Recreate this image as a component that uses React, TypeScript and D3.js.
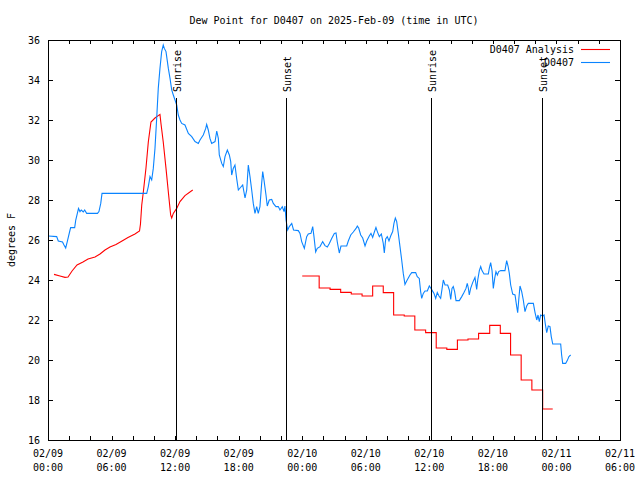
import React from "react";
import * as d3 from "d3";

const TITLE = "Dew Point for D0407 on 2025-Feb-09 (time in UTC)";
const Y_LABEL = "degrees F";
const X_TICK_DATES = ["02/09", "02/09", "02/09", "02/09", "02/10", "02/10", "02/10", "02/10", "02/11", "02/11"];
const X_TICK_TIMES = ["00:00", "06:00", "12:00", "18:00", "00:00", "06:00", "12:00", "18:00", "00:00", "06:00"];
const Y_TICKS = [16, 18, 20, 22, 24, 26, 28, 30, 32, 34, 36];
const SERIES_NAMES = ["D0407 Analysis", "D0407"];
const SERIES_COLORS = ["#ff0000", "#0a84ff"];

const EVENT_LABELS = ["Sunrise", "Sunset", "Sunrise", "Sunset"];
const EVENT_HOURS = [12.08, 22.5, 36.2, 46.66];

// hours since 02/09 00:00 UTC
const OBS_HOURS = [
  0.03, 0.82, 0.97, 1.37, 1.51, 1.67, 1.82, 2.08, 2.14, 2.52,
  2.62, 2.77, 2.88, 3.02, 3.14, 3.33, 3.46, 3.65, 4.67, 4.81,
  4.98, 5.10, 9.32, 9.47, 9.63, 9.79, 9.94, 10.10, 10.26, 10.41,
  10.57, 10.73, 10.88, 10.98, 11.14, 11.36, 11.52, 11.68, 11.83, 11.99,
  12.15, 12.30, 12.46, 12.62, 12.93, 13.25, 13.57, 13.88, 14.19, 14.35,
  14.66, 14.89, 14.98, 15.13, 15.29, 15.45, 15.77, 15.93, 16.08, 16.17,
  16.40, 16.55, 16.71, 16.93, 17.12, 17.25, 17.34, 17.49, 17.65, 17.81,
  17.97, 18.13, 18.38, 18.60, 18.76, 18.91, 19.07, 19.23, 19.38, 19.54,
  19.70, 19.85, 20.01, 20.17, 20.27, 20.39, 20.58, 20.70, 20.89, 21.12,
  21.27, 21.52, 21.74, 21.90, 22.12, 22.28, 22.37, 22.47, 22.63, 22.78,
  23.01, 23.18, 23.63, 23.79, 23.95, 24.20, 24.42, 24.57, 24.83, 24.99,
  25.11, 25.27, 25.42, 25.68, 25.93, 26.15, 26.37, 26.56, 26.78, 27.03,
  27.19, 27.31, 27.50, 27.66, 28.20, 28.35, 28.58, 28.82, 29.08, 29.20,
  29.33, 29.52, 29.71, 29.93, 30.09, 30.33, 30.49, 30.65, 30.78, 30.96,
  31.09, 31.28, 31.47, 31.65, 31.75, 31.88, 32.03, 32.19, 32.35, 32.54,
  32.66, 32.79, 32.92, 33.07, 33.23, 33.39, 33.54, 33.70, 33.86, 34.17,
  34.34, 34.71, 34.86, 35.05, 35.18, 35.28, 35.43, 35.59, 35.81, 36.00,
  36.13, 36.28, 36.44, 36.60, 36.75, 36.91, 37.07, 37.22, 37.32, 37.48,
  37.73, 37.89, 38.02, 38.14, 38.26, 38.39, 38.52, 38.83, 39.06, 39.27,
  39.46, 39.58, 39.68, 39.77, 39.90, 40.09, 40.31, 40.47, 40.57, 40.72,
  40.85, 40.97, 41.16, 41.57, 41.66, 41.79, 41.92, 42.04, 42.17, 42.29,
  42.42, 42.55, 42.74, 43.14, 43.30, 43.43, 43.55, 43.68, 43.87, 44.09,
  44.25, 44.34, 44.44, 44.56, 44.72, 44.87, 45.03, 45.19, 45.34, 45.82,
  45.98, 46.14, 46.26, 46.38, 46.51, 46.70, 46.83, 46.95, 47.08, 47.23,
  47.39, 47.51, 47.65, 48.40, 48.49, 48.59, 48.87, 49.02, 49.18, 49.34,
];
const OBS_VALUES = [
  26.2, 26.17, 25.95, 25.9, 25.75, 25.6, 25.92, 26.5, 26.62, 26.62,
  27.0, 27.33, 27.58, 27.42, 27.5, 27.4, 27.5, 27.33, 27.33, 27.42,
  27.83, 28.33, 28.33, 28.67, 29.17, 29.0, 29.58, 30.58, 32.08, 33.58,
  34.58, 35.42, 35.75, 35.58, 35.42, 34.58, 34.08, 33.5, 33.25, 33.0,
  32.75, 32.25, 32.0, 31.83, 31.75, 31.33, 31.17, 30.92, 30.83, 31.0,
  31.25, 31.58, 31.78, 31.5, 31.08, 30.83, 30.92, 31.45, 31.08, 30.25,
  29.83, 29.67, 30.17, 30.5, 30.25, 29.92, 29.25, 29.58, 29.75, 29.08,
  28.5, 28.6, 28.75, 28.1, 28.5, 29.75, 29.17, 28.5, 27.83, 27.33,
  27.67, 27.33, 27.67, 28.83, 29.42, 29.0, 28.25, 27.7, 28.0, 28.03,
  27.83, 27.67, 27.67, 27.5, 27.67, 27.42, 27.7, 27.0, 26.5, 26.67,
  26.83, 26.5, 26.47, 26.33, 25.92, 25.58, 26.17, 26.3, 26.33, 26.67,
  26.17, 25.4, 25.58, 25.67, 25.92, 25.72, 25.65, 25.83, 26.08, 26.33,
  26.35, 25.9, 25.35, 25.7, 25.7, 25.95, 26.25, 26.4, 26.58, 26.7,
  26.6, 26.25, 26.1, 25.7, 25.95, 26.2, 26.33, 26.13, 26.35, 26.63,
  26.42, 26.17, 26.3, 25.83, 25.35, 26.05, 26.17, 25.95, 26.2, 26.42,
  26.83, 27.1, 26.92, 26.33, 25.67, 25.0, 24.33, 23.78, 23.95, 24.25,
  24.37, 24.37, 24.17, 24.08, 23.42, 23.08, 23.33, 23.45, 23.45, 23.7,
  23.6, 23.47, 23.33, 23.08, 23.37, 23.2, 23.08, 23.63, 24.0, 23.75,
  23.75, 23.5, 23.03, 23.58, 23.67, 23.42, 22.97, 22.97, 23.17, 23.37,
  23.58, 23.83, 23.6, 23.25, 23.58, 23.87, 24.13, 23.53, 24.0, 24.47,
  24.67, 24.47, 24.3, 24.3, 24.58, 24.87, 24.47, 23.58, 24.08, 24.42,
  24.25, 24.42, 24.47, 24.47, 24.97, 24.7, 24.33, 23.75, 23.3, 23.25,
  22.67, 22.37, 23.0, 23.7, 23.42, 23.0, 22.42, 22.7, 22.83, 22.83,
  22.37, 22.0, 22.25, 21.92, 22.25, 22.2, 22.25, 21.8, 21.37, 21.7,
  21.67, 21.17, 20.8, 20.8, 20.25, 19.83, 19.83, 19.97, 20.17, 20.25,
];

// analysis, first run (smooth)
const ANA1_HOURS = [
  0.57, 1.13, 1.60, 1.89, 2.27, 2.74, 3.30, 3.78, 4.44, 4.91,
  5.38, 5.85, 6.42, 6.99, 7.55, 8.21, 8.64, 8.73, 8.85, 9.00,
  9.25, 9.47, 9.72, 10.10, 10.57, 10.67, 10.88, 11.14, 11.36, 11.58,
  11.68, 11.83, 12.15, 12.46, 12.93, 13.66,
];
const ANA1_VALUES = [
  24.28, 24.2, 24.13, 24.15, 24.45, 24.75, 24.9, 25.05, 25.15, 25.3,
  25.5, 25.65, 25.78, 25.95, 26.12, 26.3, 26.45, 26.8, 27.75, 28.4,
  29.6, 30.9, 31.9, 32.1, 32.28, 31.8, 30.9, 29.58, 28.4, 27.25,
  27.1, 27.33, 27.58, 27.92, 28.22, 28.5,
];

// analysis, second run (hourly steps)
const ANA2_HOURS = [
  24.0, 25.6, 26.63, 27.63, 28.63, 29.65, 30.65, 31.65, 32.63, 33.63,
  34.63, 35.65, 36.65, 37.65, 38.65, 39.65, 40.65, 41.7, 42.7, 43.67,
  44.67, 45.68, 46.7, 47.65,
];
const ANA2_VALUES = [
  24.2, 23.6, 23.53, 23.38, 23.3, 23.2, 23.7, 23.37, 22.25, 22.2,
  21.5, 21.37, 20.6, 20.53, 21.0, 21.05, 21.33, 21.73, 21.33, 20.25,
  19.0, 18.5, 17.55, 17.55,
];

const W = 640;
const H = 480;
const L = 48;
const R = 620;
const T = 40;
const B = 440;
const FONT = "'DejaVu Sans Mono', 'Liberation Mono', monospace";

export default function App() {
  const x = d3.scaleLinear().domain([0, 54]).range([L, R]);
  const y = d3.scaleLinear().domain([16, 36]).range([B, T]);

  const minorTicks = d3.range(0, 54.001, 2);
  const majorTicks = d3.range(0, 54.001, 6);

  const line = d3
    .line<[number, number]>()
    .x((d) => x(d[0]))
    .y((d) => y(d[1]));
  const stepLine = d3
    .line<[number, number]>()
    .x((d) => x(d[0]))
    .y((d) => y(d[1]))
    .curve(d3.curveStepAfter);

  const obs = OBS_HOURS.map((h, i) => [h, OBS_VALUES[i]] as [number, number]);
  const ana1 = ANA1_HOURS.map((h, i) => [h, ANA1_VALUES[i]] as [number, number]);
  const ana2 = ANA2_HOURS.map((h, i) => [h, ANA2_VALUES[i]] as [number, number]);

  return (
    <svg
      width={W}
      height={H}
      style={{ position: "absolute", left: 0, top: 0, background: "#fff" }}
      fontFamily={FONT}
      fontSize={10}
    >
      <rect x={0} y={0} width={W} height={H} fill="#fff" />
      <text x={(L + R) / 2} y={24} textAnchor="middle" fill="#000">
        {TITLE}
      </text>
      <text transform={`translate(15,240) rotate(-90)`} textAnchor="middle" fill="#000">
        {Y_LABEL}
      </text>

      {/* y ticks */}
      {Y_TICKS.map((v) => (
        <g key={"y" + v} shapeRendering="crispEdges">
          <line x1={L} x2={L + 5} y1={Math.round(y(v)) + 0.5} y2={Math.round(y(v)) + 0.5} stroke="#000" />
          <line x1={R} x2={R - 5} y1={Math.round(y(v)) + 0.5} y2={Math.round(y(v)) + 0.5} stroke="#000" />
          <text x={40} y={y(v) + 4} textAnchor="end" fill="#000" shapeRendering="auto">
            {v}
          </text>
        </g>
      ))}

      {/* x ticks */}
      {minorTicks.map((h) => (
        <g key={"x" + h} shapeRendering="crispEdges">
          <line x1={Math.round(x(h)) + 0.5} x2={Math.round(x(h)) + 0.5} y1={B} y2={B - 4} stroke="#000" />
          <line x1={Math.round(x(h)) + 0.5} x2={Math.round(x(h)) + 0.5} y1={T} y2={T + 4} stroke="#000" />
        </g>
      ))}
      {majorTicks.map((h, i) => (
        <g key={"xl" + h}>
          <text x={x(h)} y={457} textAnchor="middle" fill="#000">
            {X_TICK_DATES[i]}
          </text>
          <text x={x(h)} y={471} textAnchor="middle" fill="#000">
            {X_TICK_TIMES[i]}
          </text>
        </g>
      ))}

      {/* data */}
      <path d={line(ana1) || ""} fill="none" stroke={SERIES_COLORS[0]} strokeWidth={1.1} />
      <path d={stepLine(ana2) || ""} fill="none" stroke={SERIES_COLORS[0]} strokeWidth={1.1} />
      <path d={line(obs) || ""} fill="none" stroke={SERIES_COLORS[1]} strokeWidth={1.1} />

      {/* sunrise / sunset */}
      {EVENT_HOURS.map((h, i) => (
        <g key={"ev" + i}>
          <line
            x1={Math.round(x(h)) + 0.5}
            x2={Math.round(x(h)) + 0.5}
            y1={B}
            y2={98}
            stroke="#000"
            strokeWidth={1.3}
            shapeRendering="crispEdges"
          />
          <text transform={`translate(${x(h) + 5},92) rotate(-90)`} textAnchor="start" fill="#000">
            {EVENT_LABELS[i]}
          </text>
        </g>
      ))}

      {/* legend */}
      {SERIES_NAMES.map((name, i) => (
        <g key={"lg" + i}>
          <text x={574} y={53 + i * 13} textAnchor="end" fill="#000">
            {name}
          </text>
          <line x1={581} x2={610} y1={49.5 + i * 13} y2={49.5 + i * 13} stroke={SERIES_COLORS[i]} strokeWidth={1.1} />
        </g>
      ))}

      {/* border */}
      <rect
        x={L + 0.5}
        y={T + 0.5}
        width={R - L}
        height={B - T}
        fill="none"
        stroke="#000"
        shapeRendering="crispEdges"
      />
    </svg>
  );
}
